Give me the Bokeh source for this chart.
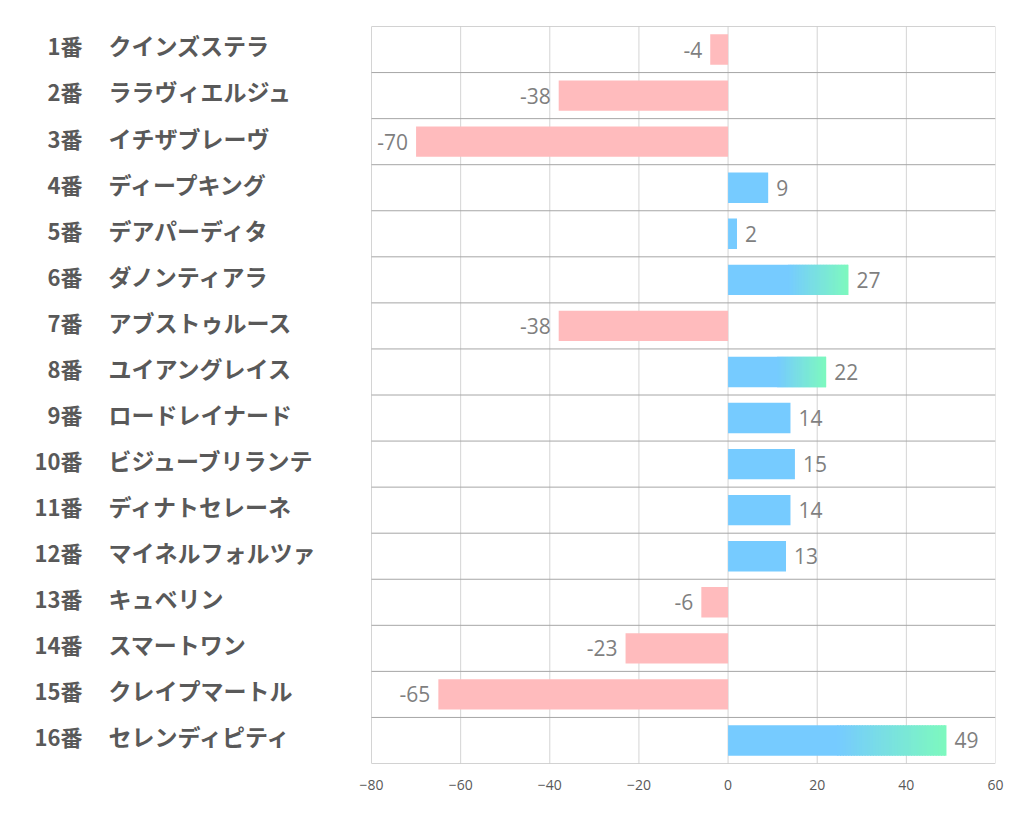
from bokeh.plotting import figure
from bokeh.models import Range1d, FixedTicker, ColumnDataSource
from bokeh.core.properties import value
from bokeh.embed import file_html
from bokeh.resources import INLINE

# ---- data ----
numbers = ["1番", "2番", "3番", "4番", "5番", "6番", "7番", "8番",
           "9番", "10番", "11番", "12番", "13番", "14番", "15番", "16番"]
names = ["クインズステラ", "ララヴィエルジュ", "イチザブレーヴ", "ディープキング",
         "デアパーディタ", "ダノンティアラ", "アブストゥルース", "ユイアングレイス",
         "ロードレイナード", "ビジューブリランテ", "ディナトセレーネ", "マイネルフォルツァ",
         "キュベリン", "スマートワン", "クレイプマートル", "セレンディピティ"]
scores = [-4, -38, -70, 9, 2, 27, -38, 22, 14, 15, 14, 13, -6, -23, -65, 49]
ticks = [-80, -60, -40, -20, 0, 20, 40, 60]

# ---- geometry / style ----
W, H = 1014, 818
PLOT_W_PX = 624          # pixel width of the -80..60 region
LEFT_PX = 371            # pixels left of -80 (label area)
lo, hi = ticks[0], ticks[-1]
PX = PLOT_W_PX / (hi - lo)
x_min = lo - LEFT_PX / PX

PINK = (255, 187, 189)
BLUE = (118, 203, 255)
GREEN = (125, 249, 190)
TXT = "#595959"
VAL = "#7f7f7f"
JP = value("Noto Sans CJK JP")


def hexc(c):
    return "#%02x%02x%02x" % tuple(int(round(x)) for x in c)


n = len(scores)
p = figure(width=W, height=H, output_backend="svg", toolbar_location=None,
           x_range=Range1d(x_min, hi), y_range=Range1d(n, 0),
           min_border_left=0, min_border_right=W - LEFT_PX - PLOT_W_PX,
           min_border_top=26, min_border_bottom=55)
p.outline_line_color = None
p.grid.visible = False
p.yaxis.visible = False
p.xaxis.ticker = FixedTicker(ticks=ticks)
p.xaxis.axis_line_color = None
p.xaxis.major_tick_line_color = None
p.xaxis.minor_tick_line_color = None
p.xaxis.major_label_standoff = 10
p.xaxis.major_label_text_font = "Open Sans"
p.xaxis.major_label_text_font_size = "14px"
p.xaxis.major_label_text_color = TXT
p.background_fill_color = "white"

# vertical gridlines
p.segment(x0=ticks, x1=ticks, y0=[0] * len(ticks), y1=[n] * len(ticks),
          line_color="#d4d4d4", line_width=1)
# horizontal row boundaries
rows = list(range(n + 1))
p.segment(x0=[lo] * len(rows), x1=[hi] * len(rows), y0=rows, y1=rows,
          line_color="#a6a6a6", line_width=1)

ys = [i + 0.5 for i in range(n)]
BAR_H = 0.66

# negative bars
neg = [(y, v) for y, v in zip(ys, scores) if v < 0]
p.hbar(y=[a for a, _ in neg], left=[v for _, v in neg], right=0, height=BAR_H,
       fill_color=hexc(PINK), line_color=None)

# positive bars: solid part + gradient slices for long bars
solid_y, solid_r = [], []
gy, gl, gr, gc = [], [], [], []
NSEG = 40
OVER = 1.2 / PX
for y, v in zip(ys, scores):
    if v <= 0:
        continue
    if v >= 20:
        start = v * 0.5
        solid_y.append(y); solid_r.append(start + OVER)
        for k in range(NSEG):
            t0 = k / NSEG
            t1 = (k + 1) / NSEG
            tm = (t0 + t1) / 2
            c = [BLUE[j] + (GREEN[j] - BLUE[j]) * tm for j in range(3)]
            gy.append(y)
            gl.append(start + (v - start) * t0)
            gr.append(min(v, start + (v - start) * t1 + OVER))
            gc.append(hexc(c))
    else:
        solid_y.append(y); solid_r.append(v)

p.hbar(y=solid_y, left=0, right=solid_r, height=BAR_H,
       fill_color=hexc(BLUE), line_color=None)
p.hbar(source=ColumnDataSource(dict(y=gy, left=gl, right=gr, color=gc)),
       y="y", left="left", right="right", height=BAR_H,
       fill_color="color", line_color=None)

# value labels
GAP = 8 / PX
pos = ColumnDataSource(dict(x=[v + GAP for v in scores if v >= 0],
                            y=[y for y, v in zip(ys, scores) if v >= 0],
                            t=[str(v) for v in scores if v >= 0]))
negs = ColumnDataSource(dict(x=[v - GAP for v in scores if v < 0],
                             y=[y for y, v in zip(ys, scores) if v < 0],
                             t=[str(v) for v in scores if v < 0]))
for src, align in ((pos, "left"), (negs, "right")):
    p.text(x="x", y="y", text="t", source=src, text_align=align,
           text_baseline="middle", text_font=value("Open Sans"),
           text_font_size="21px", text_color=VAL)

# row labels
num_x = x_min + 82 / PX
name_x = x_min + 108 / PX
label_y = [y - 0.09 for y in ys]
p.text(x=[num_x] * n, y=label_y, text=numbers, text_align="right",
       text_baseline="middle", text_font=JP, text_font_style="bold",
       text_font_size="22px", text_color=TXT)
p.text(x=[name_x] * n, y=label_y, text=names, text_align="left",
       text_baseline="middle", text_font=JP, text_font_style="bold",
       text_font_size="23px", text_color=TXT)

open("out.html", "w").write(file_html(p, INLINE))
